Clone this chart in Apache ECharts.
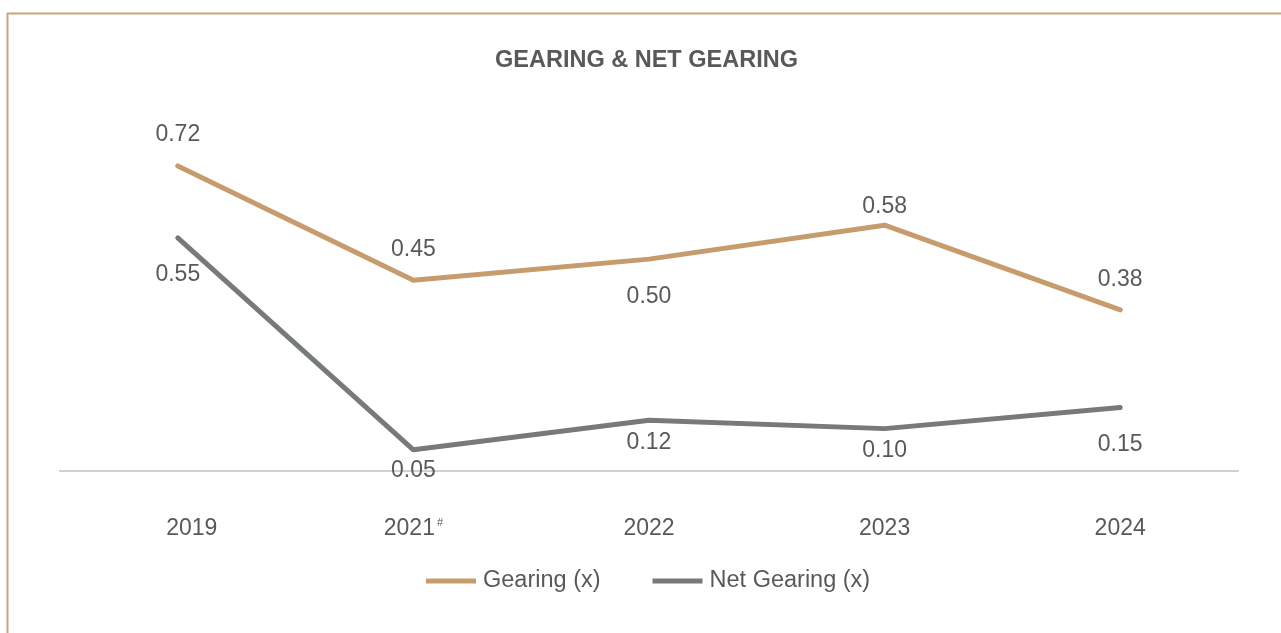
<!DOCTYPE html>
<html>
<head>
<meta charset="utf-8">
<script src="https://cdn.jsdelivr.net/npm/echarts@6/dist/echarts.min.js"></script>
<style>
html,body{margin:0;padding:0;background:#fff;}
#chart{width:1281px;height:633px;}
</style>
</head>
<body>
<div id="chart"></div>
<script>
var categories = ['2019', '2021#', '2022', '2023', '2024'];
var gearing = [0.72, 0.45, 0.50, 0.58, 0.38];
var netGearing = [0.55, 0.05, 0.12, 0.10, 0.15];
var seriesNames = ['Gearing (x)', 'Net Gearing (x)'];

var FONT = '"Liberation Sans", Arial, sans-serif';
var TXT = '#595959';
var FS = 23;

// label placement per point (layout only)
var gearingLabelPos = [['top', 18], ['top', 17], ['bottom', 24], ['top', 5], ['top', 17]];
var netLabelPos = [['bottom', 23], ['bottom', 7], ['bottom', 9], ['bottom', 9], ['bottom', 24]];

function build(vals, pos) {
  return vals.map(function (v, i) {
    return { value: v, label: { show: true, position: pos[i][0], distance: pos[i][1] } };
  });
}

function lineSeries(name, vals, pos, col) {
  return {
    name: name,
    type: 'line',
    data: build(vals, pos),
    symbol: 'circle',
    symbolSize: 4,
    showSymbol: true,
    itemStyle: { color: col },
    lineStyle: { width: 5, color: col, cap: 'round' },
    label: {
      show: true,
      fontFamily: FONT,
      fontSize: FS,
      color: TXT,
      formatter: function (p) { return Number(p.value).toFixed(2); }
    },
    labelLayout: { hideOverlap: false }
  };
}

var chart = echarts.init(document.getElementById('chart'));
chart.setOption({
  animation: false,
  textStyle: { fontFamily: FONT },
  title: {
    text: 'GEARING & NET GEARING',
    left: 490,
    top: 44,
    textStyle: { fontFamily: FONT, fontSize: 23.5, fontWeight: 'bold', color: TXT }
  },
  graphic: [
    { type: 'line', shape: { x1: 7, y1: 13.5, x2: 1281, y2: 13.5 }, style: { stroke: '#c9a47f', lineWidth: 2 }, silent: true },
    { type: 'line', shape: { x1: 7.5, y1: 13, x2: 7.5, y2: 633 }, style: { stroke: '#c9a47f', lineWidth: 2 }, silent: true }
  ],
  legend: {
    top: 564,
    left: 421,
    itemWidth: 50,
    itemHeight: 5,
    itemGap: 52,
    icon: 'rect',
    textStyle: { fontFamily: FONT, fontSize: 23.5, color: TXT, padding: [0, 0, 0, 2] },
    data: seriesNames
  },
  grid: { left: 60, right: 43, top: 132, bottom: 162 },
  xAxis: {
    type: 'category',
    data: categories,
    boundaryGap: true,
    axisLine: { lineStyle: { color: '#d0d0d0', width: 2 } },
    axisTick: { show: false },
    axisLabel: {
      margin: 46,
      fontFamily: FONT,
      fontSize: FS,
      color: TXT,
      formatter: function (v, idx) {
        if (v.indexOf('#') >= 0) return v.replace('#', '') + '{sup|#}';
        if (idx === 0) return '{first|' + v + '}';
        return v;
      },
      rich: {
        sup: { fontSize: 11, color: TXT, verticalAlign: 'top', padding: [0, 0, 12, 2], fontFamily: FONT },
        first: { fontSize: FS, color: TXT, fontFamily: FONT, padding: [0, 0, 0, 28] }
      }
    }
  },
  yAxis: {
    type: 'value',
    min: 0,
    max: 0.8,
    show: false,
    splitLine: { show: false }
  },
  series: [
    lineSeries(seriesNames[0], gearing, gearingLabelPos, '#c69c6d'),
    lineSeries(seriesNames[1], netGearing, netLabelPos, '#767a79')
  ]
});
</script>
</body>
</html>
